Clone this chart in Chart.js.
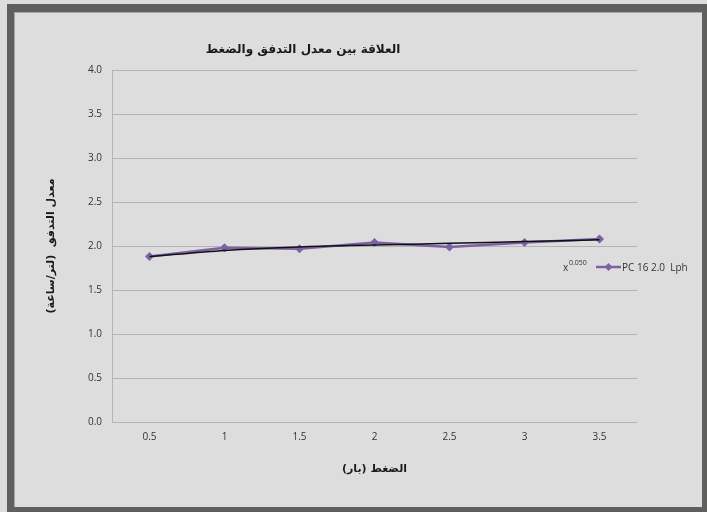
<!DOCTYPE html>
<html>
<head>
<meta charset="utf-8">
<script src="https://cdn.jsdelivr.net/npm/chart.js@4.4.1/dist/chart.umd.min.js"></script>
<style>
  html, body { margin: 0; padding: 0; background: #dddddd; overflow: hidden; }
  #wrap { position: relative; width: 707px; height: 512px; overflow: hidden; }
  #frame {
    position: absolute; left: 7px; top: 4px; width: 703px; height: 511px;
    box-sizing: border-box; border: 8px solid #5f5f5d; border-left-width: 7px;
    box-shadow: inset 1px 1px 0 #a5a5a5; pointer-events: none;
  }
</style>
</head>
<body>
<div id="wrap">
  <canvas id="flowChart" width="707" height="512"></canvas>
  <div id="frame"></div>
</div>
<script>
const CHART_ID = 'flowChart';

const pressures = ['0.5', '1', '1.5', '2', '2.5', '3', '3.5'];
const flowRates = [1.88, 1.98, 1.97, 2.04, 1.99, 2.04, 2.08];
const trendValues = [1.88, 1.95, 1.99, 2.01, 2.03, 2.05, 2.07];
const yTicks = [0, 0.5, 1, 1.5, 2, 2.5, 3, 3.5, 4];

const chartTitle = 'العلاقة بين معدل التدفق والضغط';
const xTitle = 'الضغط (بار)';
const yTitle = 'معدل التدفق  (لتر/ساعة)';
const seriesName = 'PC 16 2.0  Lph';

const PURPLE = '#7d60a8';
const ARABIC_FONT = '"DejaVu Sans", sans-serif';
const LATIN_FONT = '"Open Sans", "Liberation Sans", sans-serif';

// title and legend sit at fixed spots like the office chart, drawn by hand
const overlayPlugin = {
    id: 'overlay',
    afterDraw(chart) {
        const ctx = chart.ctx;
        ctx.save();
        ctx.fillStyle = '#1a1a1a';
        ctx.font = 'bold 12px ' + ARABIC_FONT;
        ctx.textAlign = 'center';
        ctx.textBaseline = 'middle';
        ctx.fillText(chartTitle, 303, 50);

        const ly = 267;
        ctx.fillStyle = '#333';
        ctx.textAlign = 'left';
        ctx.font = '10px ' + LATIN_FONT;
        ctx.fillText('x', 563, ly + 1);
        ctx.font = '7px ' + LATIN_FONT;
        ctx.fillText('0.050', 569, ly - 4);

        ctx.strokeStyle = PURPLE;
        ctx.lineWidth = 2.5;
        ctx.beginPath();
        ctx.moveTo(596, ly);
        ctx.lineTo(621, ly);
        ctx.stroke();
        ctx.fillStyle = PURPLE;
        ctx.beginPath();
        ctx.moveTo(608.5, ly - 4);
        ctx.lineTo(612.5, ly);
        ctx.lineTo(608.5, ly + 4);
        ctx.lineTo(604.5, ly);
        ctx.closePath();
        ctx.fill();

        ctx.fillStyle = '#333';
        ctx.font = '10px ' + LATIN_FONT;
        ctx.fillText(seriesName, 622, ly + 1);
        ctx.restore();
    }
};

new Chart(document.getElementById(CHART_ID), {
    type: 'line',
    data: {
        labels: pressures,
        datasets: [
            {
                label: 'x^0.050',
                data: trendValues,
                borderColor: '#111111',
                borderWidth: 1.5,
                pointRadius: 0,
                tension: 0.3,
                fill: false,
            },
            {
                label: seriesName,
                data: flowRates,
                borderColor: PURPLE,
                backgroundColor: PURPLE,
                borderWidth: 2.5,
                pointStyle: 'rectRot',
                pointRadius: 4.5,
                pointBorderWidth: 0,
                tension: 0,
                fill: false,
            },
        ],
    },
    options: {
        responsive: false,
        animation: false,
        layout: { padding: { left: 45, top: 70, right: 70, bottom: 30 } },
        plugins: { legend: { display: false }, tooltip: { enabled: false } },
        scales: {
            x: {
                offset: true,
                grid: { display: false, drawTicks: false },
                border: { display: false },
                ticks: { color: '#333', font: { family: LATIN_FONT, size: 10 }, padding: 9, maxRotation: 0 },
                title: {
                    display: true,
                    text: xTitle,
                    color: '#1a1a1a',
                    font: { family: ARABIC_FONT, size: 11, weight: 'bold' },
                    padding: { top: 0, bottom: 6 },
                },
                afterFit(scale) { scale.height = 60; },
            },
            y: {
                min: 0,
                max: 4,
                afterBuildTicks(scale) { scale.ticks = yTicks.map(v => ({ value: v })); },
                grid: { color: '#b4b4b4', lineWidth: 1, drawTicks: false },
                border: { color: '#b4b4b4', width: 1 },
                ticks: {
                    color: '#333',
                    font: { family: LATIN_FONT, size: 10 },
                    padding: 10,
                    callback: v => v.toFixed(1),
                },
                title: {
                    display: true,
                    text: yTitle,
                    color: '#1a1a1a',
                    font: { family: ARABIC_FONT, size: 11, weight: 'bold' },
                    padding: { top: 0, bottom: 0 },
                },
                afterFit(scale) { scale.width = 67; },
            },
        },
    },
    plugins: [overlayPlugin],
});
</script>
</body>
</html>
